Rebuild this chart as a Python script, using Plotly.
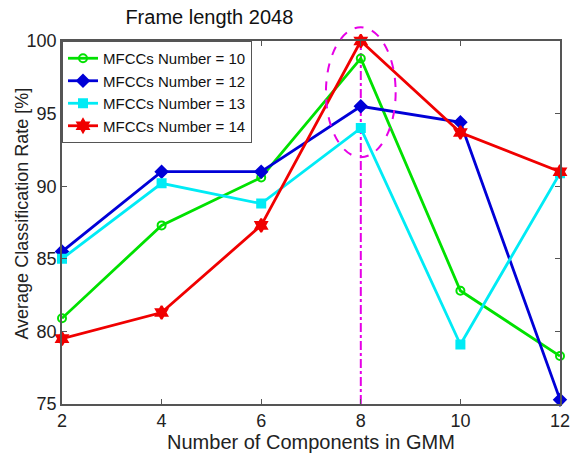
import plotly.graph_objects as go

# GMM component counts on the x axis
components = [2, 4, 6, 8, 10, 12]

# Average classification rate [%] per MFCC count
rate_mfcc10 = [80.9, 87.3, 90.6, 98.8, 82.8, 78.3]
rate_mfcc12 = [85.5, 91.0, 91.0, 95.5, 94.4, 75.3]
rate_mfcc13 = [85.0, 90.2, 88.8, 94.0, 79.1, 90.9]
rate_mfcc14 = [79.5, 81.3, 87.3, 100.0, 93.7, 91.0]

series_names = ["MFCCs Number = 10", "MFCCs Number = 12",
                "MFCCs Number = 13", "MFCCs Number = 14"]
series_colors = ["rgb(0,225,0)", "rgb(0,0,215)", "rgb(0,235,245)", "rgb(240,0,0)"]
series_symbols = ["circle-open", "diamond", "square", "hexagram"]
series_sizes = [8, 9, 8, 10]

x_ticks = [2, 4, 6, 8, 10, 12]
y_ticks = [75, 80, 85, 90, 95, 100]
y_range = [75, 100]

# Best-configuration highlight: vertical marker and dashed ellipse bounds
best_x = 8
ellipse_x = [7.3, 8.7]
ellipse_y = [92.0, 100.95]

FONT = "Liberation Sans, Arial, sans-serif"

fig = go.Figure()
for name, vals, col, sym, sz in zip(series_names,
                                    [rate_mfcc10, rate_mfcc12, rate_mfcc13, rate_mfcc14],
                                    series_colors, series_symbols, series_sizes):
    fig.add_trace(go.Scatter(
        x=components, y=vals, name=name, mode="lines+markers",
        line=dict(color=col, width=2.8),
        marker=dict(symbol=sym, size=sz, color=col,
                    line=dict(color=col, width=2)),
        cliponaxis=False,
    ))

# vertical dash-dot line at the best component count
fig.add_shape(type="line", xref="x", yref="y", x0=best_x, x1=best_x,
              y0=y_range[0], y1=y_range[1],
              line=dict(color="rgb(230,0,230)", width=2, dash="dashdot"),
              layer="below")


def to_paper(v):
    return (v - y_range[0]) / (y_range[1] - y_range[0])


fig.add_shape(type="circle", xref="x", yref="paper",
              x0=ellipse_x[0], x1=ellipse_x[1],
              y0=to_paper(ellipse_y[0]), y1=to_paper(ellipse_y[1]),
              line=dict(color="rgb(230,0,230)", width=2, dash="dash"))

# y-axis title placed close to the tick labels
fig.add_annotation(text="Average Classification Rate [%]", textangle=-90,
                   xref="paper", yref="paper", x=-0.08, y=0.525,
                   xanchor="center", yanchor="middle", showarrow=False,
                   font=dict(family=FONT, size=18, color="#222"))

tick_font = dict(family=FONT, size=18, color="#222")

fig.update_layout(
    width=572, height=455,
    margin=dict(l=62, r=12, t=41, b=51, autoexpand=False),
    paper_bgcolor="white", plot_bgcolor="white",
    font=dict(family=FONT, size=16, color="#222"),
    title=dict(text="Frame length 2048", x=0.366, xanchor="center",
               y=0.962, yanchor="middle",
               font=dict(family=FONT, size=20, color="#111")),
    showlegend=True,
    legend=dict(x=0.0, y=1.0, xanchor="left", yanchor="top",
                bgcolor="white", bordercolor="#555", borderwidth=1,
                font=dict(family=FONT, size=15, color="#111"),
                itemwidth=30, tracegroupgap=0),
    xaxis=dict(range=[2, 12], tickvals=x_ticks, ticks="inside", ticklen=5,
               tickcolor="#555", showline=True, linecolor="#555", linewidth=1.5,
               mirror="ticks", showgrid=False, zeroline=False, automargin=False,
               tickfont=tick_font,
               title=dict(text="Number of Components in GMM",
                          font=dict(family=FONT, size=20, color="#222"), standoff=2)),
    yaxis=dict(range=y_range, tickvals=y_ticks, ticks="inside", ticklen=5,
               tickcolor="#555", showline=True, linecolor="#555", linewidth=1.5,
               mirror="ticks", showgrid=False, zeroline=False, automargin=False,
               tickfont=tick_font),
)

fig.write_html("out.html")
